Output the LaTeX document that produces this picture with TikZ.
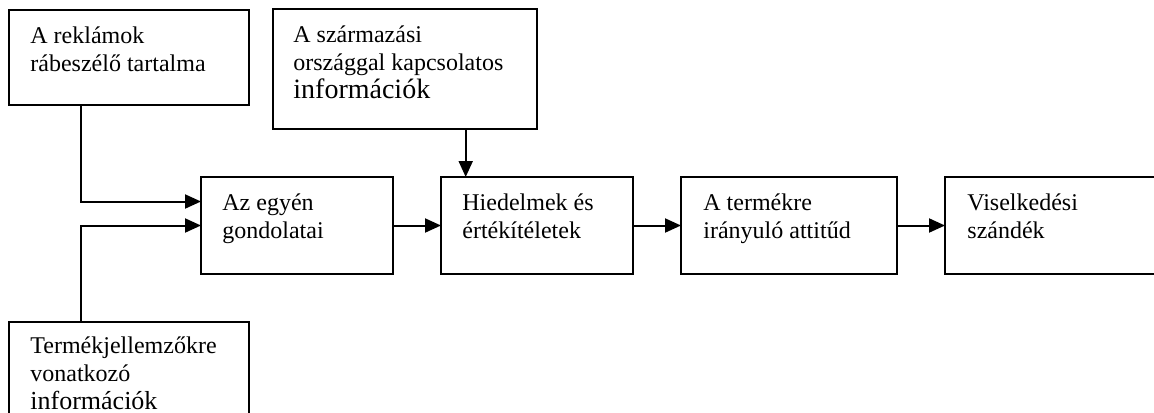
\documentclass[tikz,border=0pt]{standalone}
\usepackage{fontspec}
\setmainfont{Liberation Serif}
\usetikzlibrary{arrows.meta}
\begin{document}
\begin{tikzpicture}[x=0.5pt,y=-0.5pt,
  box/.style={draw,line width=1pt,anchor=north west,inner sep=0pt,outer sep=0pt},
  lbl/.style={anchor=north west,inner sep=0pt,align=left,font=\fontsize{12}{14}\selectfont},
  conn/.style={line width=1pt,-{Triangle[length=8pt,width=7pt]}}]
\useasboundingbox (0,0) rectangle (1154,412);
% boxes
\node[box,minimum width=120pt,minimum height=47.5pt] (b1) at (9,10) {};
\node[box,minimum width=132pt,minimum height=60pt] (b2) at (273,9) {};
\node[box,minimum width=96pt,minimum height=48.5pt] (b3) at (201,177) {};
\node[box,minimum width=96pt,minimum height=48.5pt] (b4) at (441,177) {};
\node[box,minimum width=108pt,minimum height=48.5pt] (b5) at (681,177) {};
\node[box,minimum width=115pt,minimum height=48.5pt] (b6) at (945,177) {};
\node[box,minimum width=120pt,minimum height=55pt] (b7) at (9,322) {};
% texts
\node[lbl] (t1) at (30,23.4) {\strut A reklámok\\rábeszélő tartalma};
\node[lbl] (t2) at (293,22.4) {\strut A származási\\országgal kapcsolatos\\{\fontsize{14}{14}\selectfont információk}};
\node[lbl] (t3) at (222,190.4) {\strut Az egyén\\gondolatai};
\node[lbl] (t4) at (462,190.4) {\strut Hiedelmek és\\értékítéletek};
\node[lbl] (t5) at (703,190.4) {\strut A termékre\\irányuló attitűd};
\node[lbl] (t6) at (967,190.4) {\strut Viselkedési\\szándék};
\node[lbl] (t7) at (30,333.4) {\strut Termékjellemzőkre\\vonatkozó\\{\fontsize{13}{14}\selectfont információk}};
% connectors
\draw[conn] ([xshift=35.85pt]b1.south west) |- ([yshift=12pt]b3.west);
\draw[conn] ([xshift=35.85pt]b7.north west) |- (b3.west);
\draw[conn] ([xshift=96.35pt]b2.south west) coordinate (s2) -- (s2 |- b4.north);
\draw[conn] (b3.east) -- (b4.west);
\draw[conn] (b4.east) -- (b5.west);
\draw[conn] (b5.east) -- (b6.west);
\end{tikzpicture}
\end{document}
